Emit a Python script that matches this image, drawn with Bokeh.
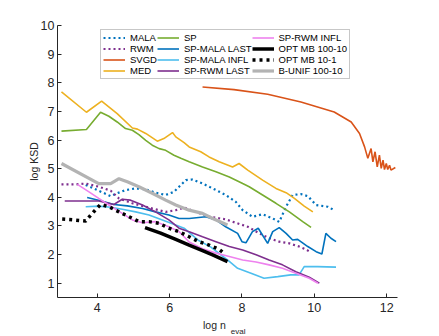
from bokeh.plotting import figure
from bokeh.models import Range1d, FixedTicker, Legend, LegendItem, Div
from bokeh.layouts import column
from bokeh.embed import file_html
from bokeh.resources import INLINE

# ---------------- data ----------------
mala_x = [3.68, 3.95, 4.37, 4.55, 4.78, 5.06, 5.34, 5.61, 5.89, 6.12, 6.31, 6.45, 6.63, 6.91, 7.19,
          7.55, 7.83, 8.02, 8.29, 8.57, 8.85, 9.03, 9.22, 9.40, 9.63, 9.82, 10.05, 10.37, 10.55]
mala_y = [4.43, 4.28, 4.04, 4.14, 4.25, 4.31, 4.28, 4.16, 4.08, 4.19, 4.43, 4.60, 4.62, 4.48, 4.31,
          4.08, 3.84, 3.55, 3.32, 3.41, 3.26, 3.14, 3.67, 4.08, 4.11, 4.04, 3.73, 3.67, 3.55]

rwm_x = [3.01, 3.40, 3.68, 4.04, 4.37, 4.60, 4.97, 5.52, 5.89, 6.17, 6.40, 6.72, 7.09, 7.55, 7.83,
         8.16, 8.48, 8.75, 9.03, 9.31, 9.58, 9.77, 9.91]
rwm_y = [4.45, 4.45, 4.48, 4.37, 4.23, 3.96, 3.79, 3.61, 3.49, 3.55, 3.64, 3.49, 3.32, 3.23, 3.11,
         2.97, 2.74, 2.57, 2.45, 2.39, 2.28, 2.18, 2.07]

svgd_x = [6.91, 7.78, 8.71, 9.63, 10.55, 11.02, 11.25, 11.39, 11.48, 11.57, 11.62, 11.68, 11.74,
          11.80, 11.85, 11.90, 11.94, 11.99, 12.03, 12.08, 12.12, 12.24]
svgd_y = [7.85, 7.76, 7.60, 7.33, 6.98, 6.63, 6.23, 5.76, 5.36, 5.70, 5.24, 5.59, 5.06,
          5.47, 5.01, 5.30, 4.97, 5.18, 4.97, 5.12, 4.95, 5.04]

med_x = [3.01, 3.70, 4.12, 4.55, 4.97, 5.11, 5.34, 5.66, 5.84, 6.08, 6.17, 6.40, 6.54, 6.86, 7.09,
         7.37, 7.74, 7.92, 8.16, 8.57, 8.94, 9.22, 9.45, 9.72, 9.96]
med_y = [7.68, 6.97, 7.36, 6.92, 6.42, 6.38, 6.23, 5.96, 6.05, 6.26, 6.11, 5.91, 5.76, 5.59, 5.41,
         5.24, 5.06, 5.18, 4.95, 4.60, 4.31, 4.16, 3.96, 3.69, 3.49]

sp_x = [3.01, 3.70, 4.09, 4.32, 4.55, 4.78, 4.97, 5.15, 5.34, 5.52, 5.71, 5.89, 6.12, 6.31, 6.54,
        6.91, 7.28, 7.65, 8.02, 8.20, 8.57, 8.94, 9.31, 9.68, 9.91]
sp_y = [6.31, 6.37, 6.97, 6.83, 6.63, 6.40, 6.34, 6.19, 5.99, 5.82, 5.70, 5.64, 5.47, 5.36, 5.24,
        5.06, 4.89, 4.71, 4.48, 4.37, 4.08, 3.79, 3.49, 3.15, 2.95]

spml_x = [3.72, 4.09, 4.46, 4.83, 5.25, 5.61, 5.98, 6.26, 6.54, 7.00, 7.28, 7.55, 7.88, 8.00, 8.11,
          8.29, 8.45, 8.71, 8.85, 9.03, 9.22, 9.40, 9.54, 9.82, 10.05, 10.21, 10.32, 10.46, 10.60]
spml_y = [3.99, 3.88, 3.75, 3.70, 3.61, 3.49, 3.38, 3.26, 3.26, 3.32, 3.21, 2.97, 2.74, 2.45, 2.41,
          2.80, 2.92, 2.39, 2.80, 2.94, 2.74, 2.51, 2.53, 2.28, 2.10, 2.02, 2.74, 2.57, 2.45]

spmi_x = [3.68, 4.04, 4.37, 4.69, 5.06, 5.43, 5.80, 6.17, 6.40, 6.78, 7.14, 7.60, 7.88, 8.25, 8.61,
          8.99, 9.35, 9.58, 9.72, 10.09, 10.60]
spmi_y = [3.67, 3.69, 3.65, 3.58, 3.49, 3.38, 3.21, 3.03, 2.92, 2.51, 2.26, 1.81, 1.52, 1.35, 1.17,
          1.23, 1.29, 1.29, 1.58, 1.58, 1.56]

sprl_x = [3.10, 4.04, 4.46, 4.69, 4.92, 5.25, 5.61, 5.98, 6.26, 6.54, 6.91, 7.28, 7.65, 8.02, 8.39,
          8.75, 9.12, 9.49, 9.86, 10.14]
sprl_y = [3.87, 3.87, 3.75, 3.93, 3.90, 3.73, 3.49, 3.21, 2.92, 2.80, 2.62, 2.45, 2.28, 2.16, 1.99,
          1.81, 1.64, 1.40, 1.21, 1.00]

spri_x = [3.45, 3.77, 4.04, 4.32, 4.69, 4.97, 5.25, 5.61, 5.98, 6.26, 6.54, 6.91, 7.28, 7.65, 8.02,
          8.39, 8.75, 9.12, 9.49, 9.86, 10.10]
spri_y = [4.45, 4.19, 3.96, 3.73, 3.44, 3.21, 3.11, 3.15, 2.97, 2.80, 2.44, 2.20, 2.05, 1.93, 1.81,
          1.74, 1.64, 1.52, 1.35, 1.17, 1.00]

opt100_x = [5.32, 5.75, 6.17, 6.54, 6.91, 7.19, 7.60]
opt100_y = [2.94, 2.75, 2.53, 2.33, 2.14, 1.99, 1.75]

opt10_x = [3.03, 3.35, 3.68, 3.87, 4.09, 4.32, 4.60, 4.88, 5.15, 5.43, 5.71, 5.98, 6.26, 6.54, 6.81,
           7.09, 7.37, 7.53]
opt10_y = [3.24, 3.21, 3.17, 3.45, 3.75, 3.67, 3.49, 3.32, 3.15, 3.15, 3.09, 2.92, 2.80, 2.62, 2.45,
           2.33, 2.18, 2.02]

bunif_x = [3.01, 4.04, 4.37, 4.60, 4.83, 5.15, 5.52, 5.89, 6.17, 6.54, 6.91, 7.19, 7.60]
bunif_y = [5.18, 4.48, 4.48, 4.65, 4.54, 4.37, 4.14, 3.90, 3.73, 3.55, 3.44, 3.26, 3.03]

x_ticks = [4, 6, 8, 10, 12]
y_ticks = [1, 2, 3, 4, 5, 6, 7, 8, 9, 10]

FONT = "Liberation Sans"
AXC = "#262626"

p = figure(width=439, height=317, output_backend="svg", toolbar_location=None,
           x_range=Range1d(2.9, 12.3), y_range=Range1d(0.5, 10),
           min_border_left=57, min_border_right=42, min_border_top=25, min_border_bottom=20)
p.outline_line_color = None
p.grid.visible = False
p.background_fill_color = "white"

for ax in (p.xaxis[0], p.yaxis[0]):
    ax.axis_line_color = AXC
    ax.major_tick_line_color = AXC
    ax.major_tick_in = 4
    ax.major_tick_out = 0
    ax.minor_tick_line_color = None
    ax.major_label_text_font = FONT
    ax.major_label_text_font_size = "12.5px"
    ax.major_label_text_color = AXC
    ax.axis_label_text_font = FONT
    ax.axis_label_text_font_style = "normal"
    ax.axis_label_text_font_size = "10.5px"
    ax.axis_label_text_color = AXC

p.xaxis.ticker = FixedTicker(ticks=x_ticks)
p.yaxis.ticker = FixedTicker(ticks=y_ticks)
p.xaxis.major_label_standoff = 5
p.yaxis.major_label_standoff = 3
p.yaxis.axis_label = "log KSD"
p.yaxis.axis_label_standoff = -2

series = [
    ("MALA", mala_x, mala_y, dict(line_color="#0072BD", line_width=2.2, line_dash="2 3")),
    ("RWM", rwm_x, rwm_y, dict(line_color="#7E2F8E", line_width=2.2, line_dash="2 3")),
    ("SVGD", svgd_x, svgd_y, dict(line_color="#D95319", line_width=1.6)),
    ("MED", med_x, med_y, dict(line_color="#EDB120", line_width=1.6)),
    ("SP", sp_x, sp_y, dict(line_color="#77AC30", line_width=1.6)),
    ("SP-MALA LAST", spml_x, spml_y, dict(line_color="#0072BD", line_width=1.6)),
    ("SP-MALA INFL", spmi_x, spmi_y, dict(line_color="#4DBEEE", line_width=1.6)),
    ("SP-RWM LAST", sprl_x, sprl_y, dict(line_color="#7E2F8E", line_width=1.6)),
    ("SP-RWM INFL", spri_x, spri_y, dict(line_color="#EE82EE", line_width=1.6)),
    ("OPT MB 100-10", opt100_x, opt100_y, dict(line_color="black", line_width=3.5)),
    ("OPT MB 10-1", opt10_x, opt10_y, dict(line_color="black", line_width=3.5, line_dash="3 4")),
    ("B-UNIF 100-10", bunif_x, bunif_y, dict(line_color="#B3B3B3", line_width=3.2)),
]

items = []
for name, xs, ys, st in series:
    r = p.line(xs, ys, **st)
    items.append(LegendItem(label=name, renderers=[r]))

leg = Legend(items=items, location=(43, 218), orientation="vertical", nrows=4,
             label_text_font=FONT, label_text_font_size="9.5px", label_text_color="black",
             glyph_width=22, glyph_height=11, label_height=11, label_standoff=5,
             spacing=-1, padding=2, margin=0,
             border_line_color="#8f8f8f", border_line_width=1,
             background_fill_color="white", background_fill_alpha=1)
p.add_layout(leg, "center")

xlabel = Div(
    text=('<div style="margin-left:203px; line-height:13px; font-family:\'Liberation Sans\'; '
          'font-size:10.5px; color:#262626; white-space:nowrap;">log n'
          '<span style="position:relative; top:5px; margin-left:5px; font-size:8px;">eval</span></div>'),
    width=439, height=19, margin=0)

layout = column(p, xlabel, spacing=0)
open("out.html", "w").write(file_html(layout, INLINE))
